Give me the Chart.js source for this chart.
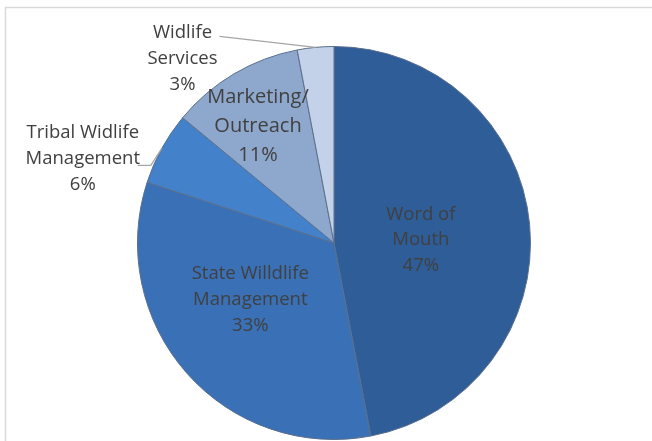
<!DOCTYPE html>
<html>
<head>
<meta charset="utf-8">
<script src="https://cdn.jsdelivr.net/npm/chart.js@4"></script>
<style>
  html, body { margin: 0; padding: 0; background: #fff; }
  #wrap { width: 652px; height: 441px; position: relative; }
</style>
</head>
<body>
<div id="wrap"><canvas id="pie"></canvas></div>
<script>
const categories = [
  ["Word of", "Mouth"],
  ["State Willdlife", "Management"],
  ["Tribal Widlife", "Management"],
  ["Marketing/", "Outreach"],
  ["Widlife", "Services"]
];
const shares = [47, 33, 6, 11, 3];
const pctLabels = ["47%", "33%", "6%", "11%", "3%"];
const sliceColors = ["#2e5d98", "#3a70b6", "#4381cb", "#8ea7cc", "#c4d2e9"];

// label placement: inside labels sit near the slice centroid, outside ones get a leader line
const placement = [
  { inside: true, dx: -11, dy: 6, size: 18.5, lh: 25.5 },
  { inside: true, dx: -10, dy: -8, size: 18.5, lh: 26 },
  { inside: false, dx: -79, dy: 10, size: 18.5, lh: 26, line: [[-11, 17], [-24, 17]] },
  { inside: true, dx: -26, dy: -32, size: 20, lh: 29 },
  { inside: false, dx: -133, dy: 11, size: 18.5, lh: 26, line: [[-96, -11]] }
];

const frameAndLabels = {
  id: "frameAndLabels",
  beforeDraw(chart) {
    const c = chart.ctx;
    c.save();
    c.strokeStyle = "#d9d9d9";
    c.lineWidth = 1.5;
    c.strokeRect(5.5, 7.5, 800, 600);
    c.restore();
  },
  afterDatasetsDraw(chart) {
    const c = chart.ctx;
    const arcs = chart.getDatasetMeta(0).data;
    c.save();
    c.textAlign = "center";
    c.textBaseline = "middle";
    c.fillStyle = "#404040";
    arcs.forEach((arc, i) => {
      const p = placement[i];
      const mid = (arc.startAngle + arc.endAngle) / 2;
      let ax, ay;
      if (p.inside) {
        const pos = arc.tooltipPosition();
        ax = pos.x; ay = pos.y;
      } else {
        ax = arc.x + Math.cos(mid) * arc.outerRadius;
        ay = arc.y + Math.sin(mid) * arc.outerRadius;
        c.strokeStyle = "#a6a6a6";
        c.lineWidth = 1.3;
        c.beginPath();
        c.moveTo(ax, ay);
        p.line.forEach(([lx, ly]) => c.lineTo(ax + lx, ay + ly));
        c.stroke();
      }
      c.font = p.size + "px 'Open Sans'";
      const lines = categories[i].concat([pctLabels[i]]);
      const cx = ax + p.dx, cy = ay + p.dy;
      lines.forEach((t, k) => {
        c.fillText(t, cx, cy + (k - (lines.length - 1) / 2) * p.lh);
      });
    });
    c.restore();
  }
};

new Chart(document.getElementById("pie"), {
  type: "pie",
  data: {
    labels: categories.map(l => l.join(" ")),
    datasets: [{
      data: shares,
      backgroundColor: sliceColors,
      borderColor: "#5a6f8c",
      borderWidth: 1
    }]
  },
  options: {
    responsive: true,
    maintainAspectRatio: false,
    animation: false,
    layout: { padding: { left: 137, right: 121, top: 46, bottom: 1 } },
    plugins: {
      legend: { display: false },
      tooltip: { enabled: false }
    }
  },
  plugins: [frameAndLabels]
});
</script>
</body>
</html>
